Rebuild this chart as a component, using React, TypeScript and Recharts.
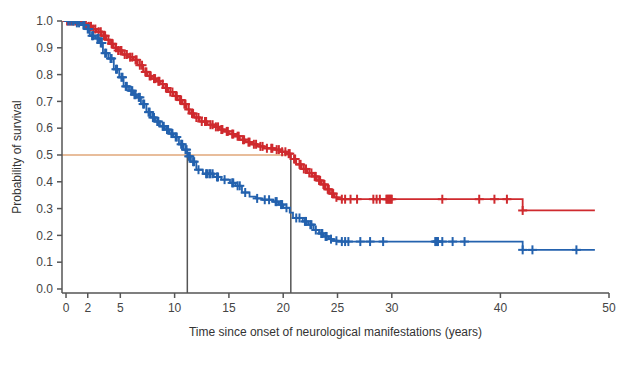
import React from 'react';
import { ComposedChart, Line, Scatter, XAxis, YAxis, ReferenceLine } from 'recharts';

// Kaplan-Meier step points (time in years, probability of survival)
const redTimes = [0, 1.6, 1.9, 2.4, 2.8, 3.3, 3.7, 4.05, 4.4, 4.7, 5.2, 5.7, 6.2, 6.6, 7.1, 7.5, 7.9, 8.3, 8.65, 9.0, 9.4, 9.9, 10.3, 10.7, 11.1, 11.4, 11.8, 12.3, 13.0, 13.6, 14.1, 14.5, 15.0, 15.5, 16.0, 16.5, 17.0, 17.6, 18.2, 19.1, 19.7, 20.3, 20.7, 21.2, 21.7, 22.2, 22.7, 23.1, 23.5, 23.9, 24.3, 24.7, 25.0, 42.05, 48.7];
const redSurv = [1.0, 0.99, 0.98, 0.97, 0.96, 0.945, 0.93, 0.915, 0.9, 0.89, 0.875, 0.865, 0.855, 0.835, 0.81, 0.795, 0.785, 0.775, 0.765, 0.75, 0.735, 0.72, 0.705, 0.69, 0.67, 0.655, 0.64, 0.625, 0.613, 0.605, 0.595, 0.588, 0.578, 0.57, 0.557, 0.548, 0.54, 0.532, 0.525, 0.52, 0.512, 0.505, 0.485, 0.465, 0.448, 0.433, 0.42, 0.405, 0.39, 0.372, 0.356, 0.342, 0.335, 0.293, 0.293];

const blueTimes = [0, 0.8, 1.4, 1.9, 2.2, 2.7, 3.1, 3.4, 3.9, 4.4, 4.9, 5.3, 5.8, 6.2, 6.5, 6.9, 7.4, 7.8, 8.2, 8.65, 9.1, 9.5, 9.9, 10.4, 10.8, 11.17, 11.5, 12.0, 12.6, 13.6, 14.3, 15.1, 15.6, 16.2, 16.9, 17.5, 18.1, 19.1, 19.6, 20.0, 20.6, 20.9, 21.8, 22.3, 22.8, 23.3, 23.7, 24.2, 24.6, 25.0, 42.05, 48.7];
const blueSurv = [1.0, 0.993, 0.985, 0.97, 0.945, 0.935, 0.918, 0.88, 0.86, 0.82, 0.79, 0.756, 0.74, 0.725, 0.715, 0.69, 0.66, 0.64, 0.625, 0.607, 0.595, 0.58, 0.567, 0.54, 0.52, 0.495, 0.475, 0.445, 0.43, 0.418, 0.408, 0.396, 0.385, 0.36, 0.345, 0.338, 0.333, 0.326, 0.315, 0.303, 0.285, 0.265, 0.252, 0.24, 0.22, 0.207, 0.196, 0.186, 0.18, 0.177, 0.146, 0.146];

// censoring times
const redCensored = [0.1, 0.3, 0.5, 0.7, 0.9, 1.1, 1.3, 1.5, 1.7, 1.8, 2.1, 2.3, 2.5, 2.7, 3.0, 3.2, 3.5, 3.6, 3.9, 4.2, 4.3, 4.6, 4.8, 5.0, 5.1, 5.4, 5.6, 5.9, 6.1, 6.4, 6.5, 6.8, 7.0, 7.3, 7.4, 7.7, 7.8, 8.1, 8.2, 8.5, 8.6, 8.9, 9.2, 9.3, 9.6, 9.8, 10.1, 10.2, 10.5, 10.6, 10.9, 11.0, 11.3, 11.6, 11.7, 12.0, 12.2, 12.5, 12.8, 12.9, 13.3, 13.5, 13.8, 14.0, 14.3, 14.4, 14.8, 14.9, 15.3, 15.4, 15.8, 15.9, 16.3, 16.4, 16.8, 16.9, 17.3, 17.5, 17.9, 18.1, 18.5, 18.9, 19.0, 19.4, 19.6, 19.9, 20.2, 20.5, 20.6, 21.0, 21.1, 21.5, 21.6, 21.9, 22.1, 22.4, 22.6, 22.9, 23.0, 23.3, 23.4, 23.7, 23.8, 24.1, 24.2, 24.5, 24.6, 24.9, 25.4, 25.7, 26.2, 26.8, 28.3, 28.6, 28.9, 29.5, 29.6, 29.7, 29.8, 29.9, 30.0, 34.65, 38.05, 39.45, 40.6, 42.05];
const blueCensored = [0.2, 0.4, 0.6, 0.7, 1.0, 1.2, 1.6, 1.7, 2.0, 2.1, 2.4, 2.5, 2.9, 3.0, 3.2, 3.3, 3.6, 3.7, 4.1, 4.2, 4.6, 4.7, 5.1, 5.2, 5.5, 5.6, 6.0, 6.1, 6.3, 6.4, 6.7, 6.8, 7.1, 7.2, 7.6, 7.7, 8.0, 8.1, 8.4, 8.5, 8.9, 9.0, 9.3, 9.4, 9.7, 9.8, 10.1, 10.2, 10.6, 10.7, 11.0, 11.1, 11.3, 11.4, 11.7, 11.8, 12.2, 12.9, 13.0, 13.2, 13.3, 13.5, 13.9, 14.0, 14.6, 15.3, 15.4, 15.8, 16.0, 16.5, 17.6, 18.3, 18.7, 19.3, 19.4, 19.8, 19.9, 20.3, 21.2, 21.5, 22.0, 22.1, 22.5, 22.6, 23.0, 23.5, 23.6, 23.9, 24.0, 24.4, 24.9, 25.4, 25.7, 26.0, 27.1, 28.0, 29.2, 34.0, 34.1, 34.2, 34.25, 34.65, 35.6, 36.7, 42.05, 42.95, 47.0];

const xTicks = [0, 2, 5, 10, 15, 20, 25, 30, 40, 50];
const yTicks = [0, 0.1, 0.2, 0.3, 0.4, 0.5, 0.6, 0.7, 0.8, 0.9, 1.0];

const medianRed = 20.7;
const medianBlue = 11.17;

const RED = '#cf2a2e';
const BLUE = '#2462ae';
const AXIS = '#555';
const FONT = '"Liberation Sans", Arial, sans-serif';

function survivalAt(times: number[], surv: number[], t: number) {
  let v = surv[0];
  for (let i = 0; i < times.length; i++) {
    if (times[i] <= t) v = surv[i];
  }
  return v;
}

const redSteps = redTimes.map((t, i) => ({ x: t, y: redSurv[i] }));
const blueSteps = blueTimes.map((t, i) => ({ x: t, y: blueSurv[i] }));
const redMarks = redCensored.map((t) => ({ x: t, y: survivalAt(redTimes, redSurv, t) }));
const blueMarks = blueCensored.map((t) => ({ x: t, y: survivalAt(blueTimes, blueSurv, t) }));

const plusShape = (color: string) => (props: any) => {
  const { cx, cy } = props;
  return (
    <g stroke={color} strokeWidth={2}>
      <line x1={cx} y1={cy - 4.5} x2={cx} y2={cy + 4.5} />
      <line x1={cx - 4.5} y1={cy} x2={cx + 4.5} y2={cy} />
    </g>
  );
};

export default function App() {
  const tickStyle = { fill: '#444', fontSize: 12, fontFamily: FONT };
  return (
    <div style={{ position: 'absolute', left: 0, top: 0, background: '#fff' }}>
      <ComposedChart width={632} height={366} margin={{ top: 21, right: 23, left: 12, bottom: 23 }}>
        <XAxis
          type="number"
          dataKey="x"
          domain={[-0.37, 50]}
          ticks={xTicks}
          allowDataOverflow
          height={50}
          tick={tickStyle}
          tickSize={5}
          tickMargin={5}
          axisLine={{ stroke: AXIS, strokeWidth: 1.5 }}
          tickLine={{ stroke: AXIS, strokeWidth: 1.5 }}
          label={{ value: 'Time since onset of neurological manifestations (years)', position: 'insideBottom', offset: 7, style: { fill: '#333', fontSize: 12, fontFamily: FONT } }}
        />
        <YAxis
          type="number"
          dataKey="y"
          domain={[-0.015, 1]}
          ticks={yTicks}
          allowDataOverflow
          width={50}
          tick={tickStyle}
          tickSize={5}
          tickMargin={4}
          tickFormatter={(v: number) => v.toFixed(1)}
          axisLine={{ stroke: AXIS, strokeWidth: 1.5 }}
          tickLine={{ stroke: AXIS, strokeWidth: 1.5 }}
          label={{ value: 'Probability of survival', angle: -90, position: 'insideLeft', offset: 5, style: { textAnchor: 'middle', fill: '#333', fontSize: 12, fontFamily: FONT } }}
        />
        <ReferenceLine segment={[{ x: -0.37, y: 0.5 }, { x: medianRed, y: 0.5 }]} stroke="#e0a77a" strokeWidth={1.5} />
        <ReferenceLine segment={[{ x: medianBlue, y: -0.015 }, { x: medianBlue, y: 0.5 }]} stroke="#555" strokeWidth={1.5} />
        <ReferenceLine segment={[{ x: medianRed, y: -0.015 }, { x: medianRed, y: 0.5 }]} stroke="#555" strokeWidth={1.5} />
        <Line data={redSteps} dataKey="y" type="stepAfter" stroke={RED} strokeWidth={1.8} dot={false} isAnimationActive={false} />
        <Line data={blueSteps} dataKey="y" type="stepAfter" stroke={BLUE} strokeWidth={1.8} dot={false} isAnimationActive={false} />
        <Scatter data={redMarks} shape={plusShape(RED)} isAnimationActive={false} />
        <Scatter data={blueMarks} shape={plusShape(BLUE)} isAnimationActive={false} />
      </ComposedChart>
    </div>
  );
}
